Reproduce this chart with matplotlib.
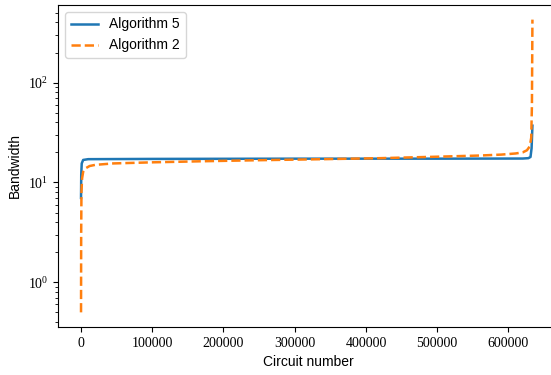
import matplotlib
matplotlib.use("Agg")
import matplotlib.pyplot as plt

plt.rcParams['font.family'] = ['Liberation Sans', 'DejaVu Sans']
plt.rcParams['mathtext.fontset'] = 'stix'

# sorted bandwidth per circuit
x_alg5 = [0, 300, 1000, 3000, 10000, 100000, 300000, 500000, 620000, 628000, 631000, 632500, 633700]
bw_alg5 = [7.0, 12.0, 15.5, 16.8, 17.1, 17.2, 17.3, 17.3, 17.35, 17.5, 18.0, 22.0, 37.0]

x_alg2 = [0, 200, 600, 1500, 3000, 6000, 12000, 20000, 45000, 100000, 170000, 250000,
          340000, 420000, 500000, 560000, 590000, 610000, 620000, 626000, 630000,
          632000, 633000, 633700]
bw_alg2 = [0.5, 3.0, 8.0, 11.0, 12.8, 13.8, 14.6, 15.0, 15.5, 15.9, 16.3, 16.7,
           17.1, 17.5, 18.1, 18.6, 19.0, 19.5, 20.0, 21.0, 23.0,
           28.0, 60.0, 427.0]

fig = plt.figure(figsize=(5.51, 3.75), dpi=100)
ax = fig.add_axes([0.1053, 0.128, 0.91, 0.8587])

ax.plot(x_alg5, bw_alg5, color='#1f77b4', lw=1.8, label='Algorithm 5')
ax.plot(x_alg2, bw_alg2, color='#ff7f0e', lw=1.8, linestyle='--', label='Algorithm 2')
ax.set_yscale('log')
ax.set_xlim(-32300, 671600)
ax.spines['right'].set_visible(False)  # right edge is cut off in the original

ax.set_xlabel('Circuit number', fontsize=10)
ax.set_ylabel('Bandwidth', fontsize=10)
for lab in ax.get_xticklabels() + ax.get_yticklabels():
    lab.set_family('Liberation Serif')
ax.tick_params(labelsize=10)

ax.legend(loc='upper left', fontsize=10)

fig.savefig('out.png', dpi=100)
